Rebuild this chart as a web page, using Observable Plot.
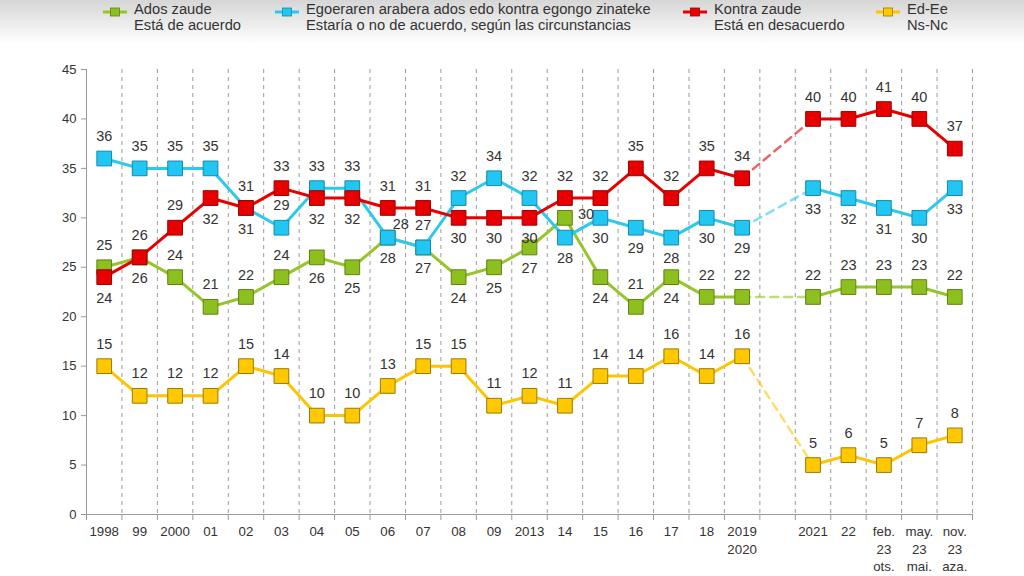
<!DOCTYPE html>
<html><head><meta charset="utf-8">
<script src="https://cdn.jsdelivr.net/npm/d3@7"></script>
<script src="https://cdn.jsdelivr.net/npm/@observablehq/plot@0.6"></script>
<style>
body{margin:0;width:1024px;height:576px;overflow:hidden;background:linear-gradient(#d6d6d6 0px,#ffffff 44px);font-family:"Liberation Sans",Arial,sans-serif;}
#legend{position:relative;height:40px;}
.item{position:absolute;top:2px;font-size:14.7px;line-height:15.5px;color:#333;white-space:nowrap;}
.sw{position:absolute;top:4px;}
#chart svg{display:block;}
</style>
</head><body>
<div id="legend"></div>
<div id="chart"></div>
<script>
// ---- data ----
const categories = ["1998","99","2000","01","02","03","04","05","06","07","08","09","2013","14","15","16","17","18","2019\n2020","","2021","22","feb.\n23\nots.","may.\n23\nmai.","nov.\n23\naza."];
const seriesNames = ["Ados zaude","Egoeraren arabera ados edo kontra egongo zinateke","Kontra zaude","Ed-Ee"];
const seriesSub = ["Está de acuerdo","Estaría o no de acuerdo, según las circunstancias","Está en desacuerdo","Ns-Nc"];
const adosZaude   = [25,26,24,21,22,24,26,25,28,27,24,25,27,30,24,21,24,22,22,null,22,23,23,23,22];
const egoeraren   = [36,35,35,35,31,29,33,33,28,27,32,34,32,28,30,29,28,30,29,null,33,32,31,30,33];
const kontraZaude = [24,26,29,32,31,33,32,32,31,31,30,30,30,32,32,35,32,35,34,null,40,40,41,40,37];
const edEe        = [15,12,12,12,15,14,10,10,13,15,15,11,12,11,14,14,16,14,16,null,5,6,5,7,8];
const yTicks = [0,5,10,15,20,25,30,35,40,45];

// ---- styling (label placement per point, colours) ----
const sideGreen  = ["a","a","a","a","a","a","b","b","b","b","b","b","b","r","b","a","b","a","a","","a","a","a","a","a"];
const sideCyan   = ["a","a","a","a","b","a","a","a","ar","a","a","a","a","b","b","b","b","b","b","","b","b","b","b","b"];
const sideRed    = ["b","b","a","b","a","a","b","b","a","a","b","b","b","a","a","a","a","a","a","","a","a","a","a","a"];
const sideYellow = ["a","a","a","a","a","a","a","a","a","a","a","a","a","a","a","a","a","a","a","","a","a","a","a","a"];
const fills   = ["#8dbf1f","#22c6f2","#e80000","#ffc800"];
const lines   = ["#95c52a","#2cc8ee","#e60000","#ffc400"];
const borders = ["#5f8312","#1689aa","#9a0000","#9a7a00"];

const allValues = [adosZaude, egoeraren, kontraZaude, edEe];
const allSides = [sideGreen, sideCyan, sideRed, sideYellow];
const gapIndex = categories.indexOf("");

const rows = [];
allValues.forEach((vals, s) => vals.forEach((v, i) => {
  if (v != null) rows.push({s, i, v, side: allSides[s][i], seg: i < gapIndex ? 0 : 1});
}));
const connectors = rows.filter(d => d.i === gapIndex - 1 || d.i === gapIndex + 1);
const boundaries = d3.range(categories.length).map(i => i + 0.5);

// ---- legend ----
const legendX = [103, 275, 683, 876];
const legend = document.getElementById("legend");
seriesNames.forEach((n, s) => {
  const sw = document.createElement("div");
  sw.className = "sw";
  sw.style.left = legendX[s] + "px";
  sw.innerHTML = `<svg width="24" height="12"><line x1="0" y1="6" x2="24" y2="6" stroke="${lines[s]}" stroke-width="3"/><rect x="7.5" y="2" width="9" height="8" fill="${fills[s]}" stroke="${borders[s]}" stroke-width="0.8"/></svg>`;
  legend.appendChild(sw);
  const it = document.createElement("div");
  it.className = "item";
  it.style.left = (legendX[s] + 31) + "px";
  it.innerHTML = n + "<br>" + seriesSub[s];
  legend.appendChild(it);
});

// ---- chart ----
const marks = [
  Plot.ruleX(boundaries, {stroke: "#9a9a9a", strokeWidth: 1, strokeDasharray: "4,4"}),
  Plot.ruleX([-0.5], {stroke: "#999"}),
  Plot.ruleY([0], {stroke: "#999"}),
  Plot.axisY({ticks: yTicks, tickSize: 5, tickPadding: 5, stroke: "#999", fontSize: 13, fill: "#333", label: null}),
  Plot.axisX({ticks: [-0.5, ...boundaries], tickSize: 6, tickFormat: () => "", stroke: "#999", label: null}),
  Plot.axisX({ticks: d3.range(categories.length), tickSize: 0, tickPadding: 9, tickFormat: i => categories[i], fontSize: 13.3, fill: "#333", lineHeight: 1.32, label: null})
];
[0,1,2,3].forEach(s => {
  marks.push(Plot.line(connectors.filter(d => d.s === s), {x: "i", y: "v", stroke: lines[s], strokeOpacity: 0.6, strokeWidth: 2.5, strokeDasharray: "8,6"}));
  marks.push(Plot.line(rows.filter(d => d.s === s), {x: "i", y: "v", z: "seg", stroke: lines[s], strokeWidth: 3}));
  marks.push(Plot.dot(rows.filter(d => d.s === s), {x: "i", y: "v", symbol: "square", r: 8.3, fill: fills[s], stroke: borders[s], strokeWidth: 1}));
});
const textOpts = {x: "i", y: "v", text: d => String(d.v), fontSize: 14.5, fill: "#333"};
marks.push(Plot.text(rows.filter(d => d.side === "a"), {...textOpts, dy: -22}));
marks.push(Plot.text(rows.filter(d => d.side === "b"), {...textOpts, dy: 21}));
marks.push(Plot.text(rows.filter(d => d.side === "r"), {...textOpts, dx: 21, dy: -3}));
marks.push(Plot.text(rows.filter(d => d.side === "ar"), {...textOpts, dx: 13, dy: -13}));

const chart = Plot.plot({
  width: 1024, height: 534,
  marginLeft: 86, marginRight: 52, marginTop: 29, marginBottom: 60,
  x: {type: "linear", domain: [-0.5, categories.length - 0.5], axis: null, label: null},
  y: {domain: [0, 45], axis: null, label: null},
  style: {fontFamily: "'Liberation Sans', Arial, sans-serif", background: "transparent", color: "#333", overflow: "visible"},
  marks
});
document.getElementById("chart").appendChild(chart);
</script>
</body></html>
